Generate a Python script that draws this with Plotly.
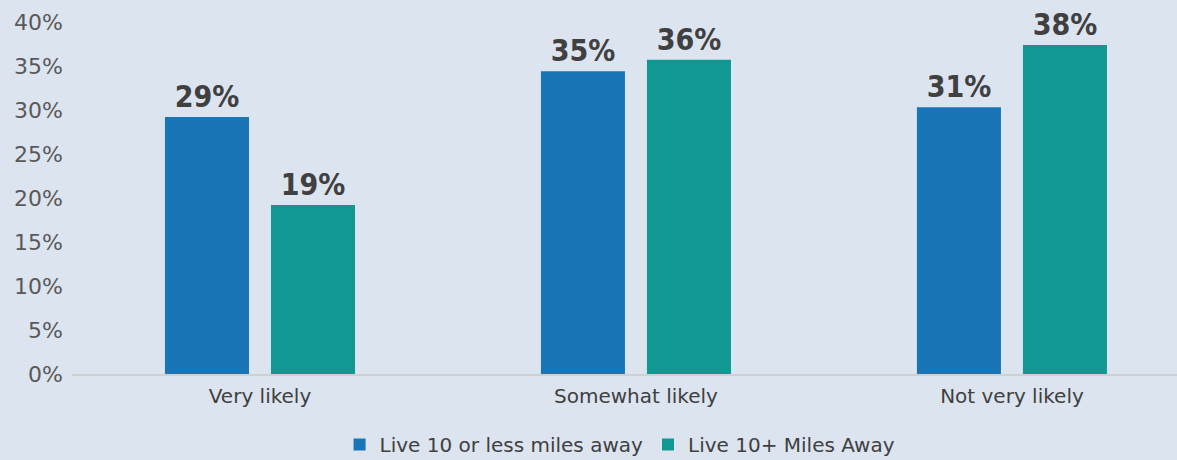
import plotly.graph_objects as go

categories = ["Very likely", "Somewhat likely", "Not very likely"]
near_values = [29.2, 34.4, 30.3]
far_values = [19.2, 35.7, 37.4]
near_labels = ["29%", "35%", "31%"]
far_labels = ["19%", "36%", "38%"]
y_ticks = [0, 5, 10, 15, 20, 25, 30, 35, 40]

BLUE = "#1a75b6"
TEAL = "#129893"
LABEL_FONT = dict(family="DejaVu Sans Condensed", size=30, color="#404040")

fig = go.Figure()
fig.add_trace(go.Bar(
    x=categories, y=near_values, name="Live 10 or less miles away",
    marker=dict(color=BLUE, line=dict(width=0)),
    text=["<b>%s</b>" % t for t in near_labels], textposition="outside",
    textfont=LABEL_FONT, cliponaxis=False,
))
fig.add_trace(go.Bar(
    x=categories, y=far_values, name="Live 10+ Miles Away",
    marker=dict(color=TEAL, line=dict(width=0)),
    text=["<b>%s</b>" % t for t in far_labels], textposition="outside",
    textfont=LABEL_FONT, cliponaxis=False,
))

fig.update_layout(
    width=1177, height=460,
    margin=dict(l=72, r=0, t=22, b=86, autoexpand=False),
    paper_bgcolor="#dce4f0", plot_bgcolor="rgba(0,0,0,0)",
    barmode="group", bargap=0.436, bargroupgap=0.2075,
    font=dict(family="DejaVu Sans", color="#595959", size=20),
    showlegend=True,
    legend=dict(orientation="h", x=0.496, xanchor="center", y=-0.2, yanchor="middle",
                font=dict(size=20, color="#404040"), bgcolor="rgba(0,0,0,0)",
                itemwidth=30, tracegroupgap=0),
    uniformtext=dict(mode=False),
)
fig.update_xaxes(
    type="category", range=[-0.5, 2.439], showgrid=False,
    showline=True, linecolor="#d0d0d0", linewidth=2, ticks="",
    tickfont=dict(size=20, color="#404040"), ticklabelstandoff=3,
)
fig.update_yaxes(
    range=[0, 40], tickvals=y_ticks, ticktext=["%d%%" % v for v in y_ticks],
    showgrid=False, zeroline=False, showline=False,
    tickfont=dict(size=22, color="#595959"), ticklabelstandoff=8,
)

fig.write_html("out.html")
